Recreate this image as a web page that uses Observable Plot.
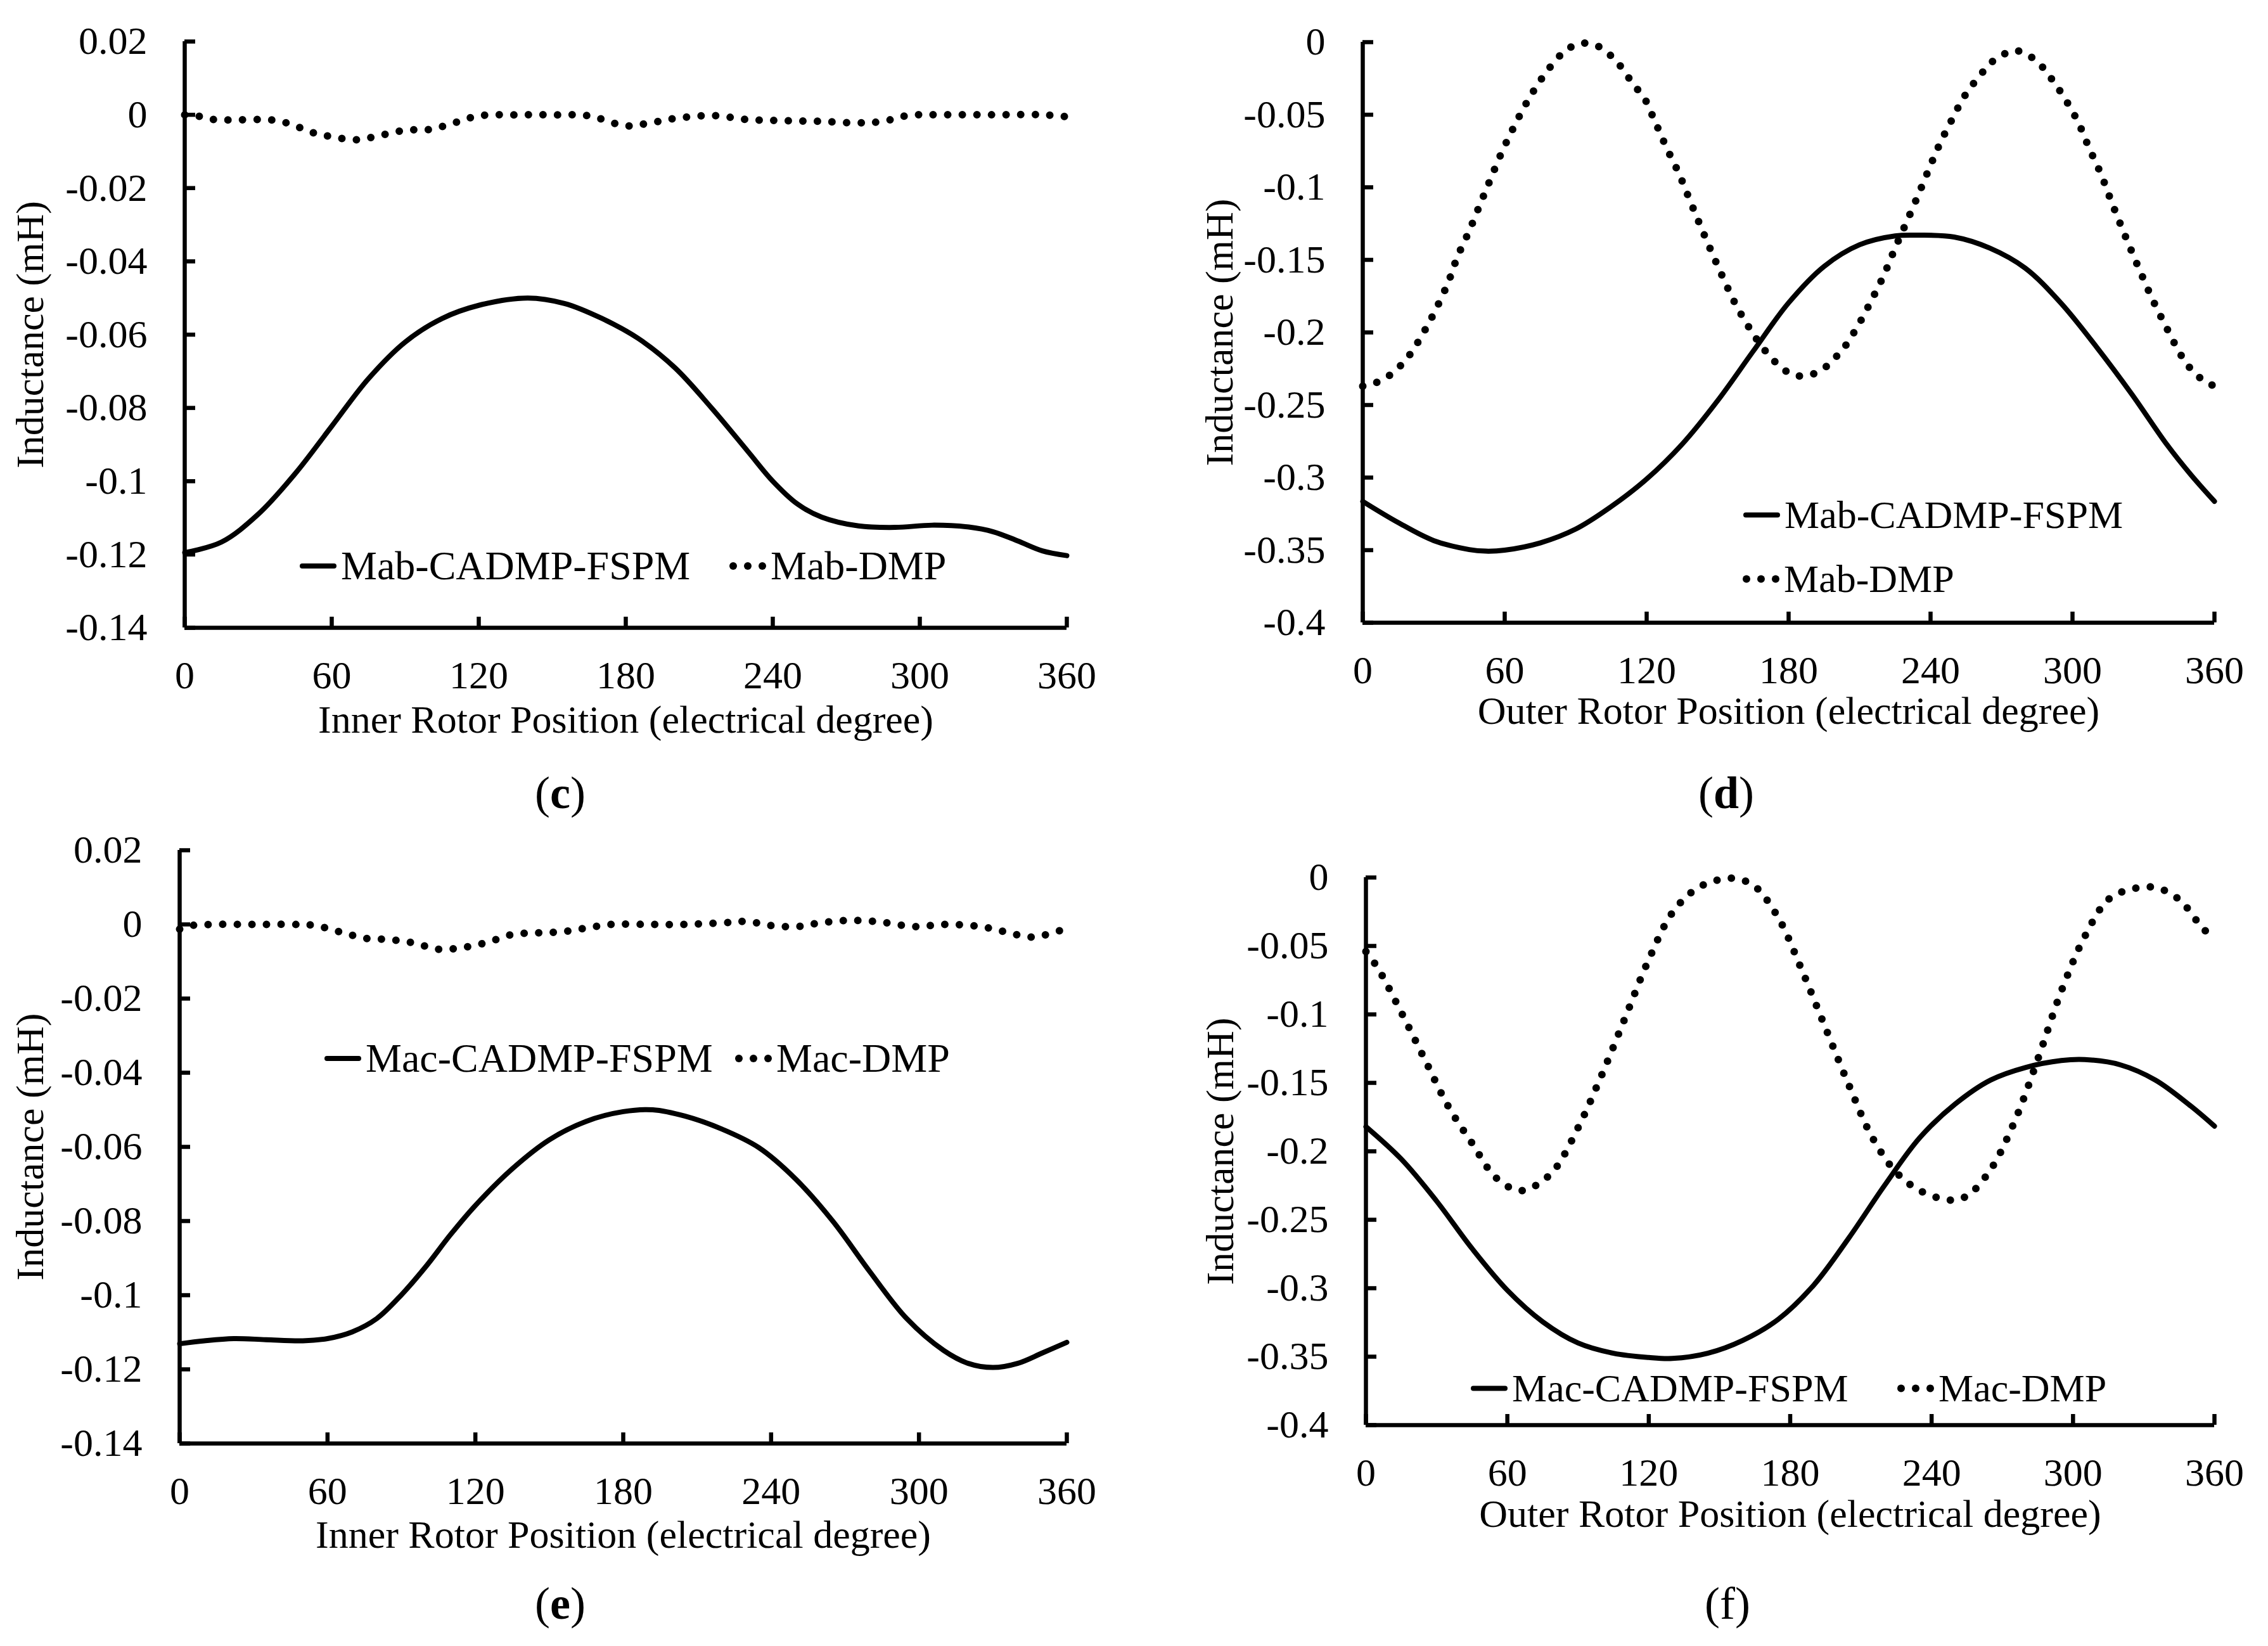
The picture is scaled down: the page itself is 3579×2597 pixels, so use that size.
<!DOCTYPE html>
<html>
<head>
<meta charset="utf-8">
<script src="https://cdn.jsdelivr.net/npm/d3@7"></script>
<script src="https://cdn.jsdelivr.net/npm/@observablehq/plot@0.6"></script>
<style>
  html, body { margin: 0; background: #fff; }
  #page { position: relative; width: 3579px; height: 2597px; font-family: "Liberation Serif", "Times New Roman", serif; color: #000; }
  .panel { position: absolute; }
  .item { position: absolute; display: flex; align-items: center; white-space: nowrap; transform: translateY(-50%); }
  .item svg { margin-right: 7px; }
  .sub { position: absolute; font-size: 72px; transform: translate(-50%, -50%); white-space: nowrap; }
</style>
</head>
<body>
<div id="page"></div>
<script>
const FONT = '"Liberation Serif", "Times New Roman", serif';

// tick values
const X_TICKS = [0, 60, 120, 180, 240, 300, 360];
const Y_TICKS_INNER = [0.02, 0, -0.02, -0.04, -0.06, -0.08, -0.1, -0.12, -0.14];
const Y_TICKS_OUTER = [0, -0.05, -0.1, -0.15, -0.2, -0.25, -0.3, -0.35, -0.4];
const Y_LABEL = "Inductance (mH)";
const X_LABEL_INNER = "Inner Rotor Position (electrical degree)";
const X_LABEL_OUTER = "Outer Rotor Position (electrical degree)";

// (c) Mab, inner rotor
const cSolidPos = [0, 15, 30, 45, 60, 75, 90, 105, 120, 140, 155, 170, 185, 200, 215, 230, 240, 250, 260, 275, 290, 305, 320, 330, 340, 350, 360];
const cSolidVal = [-0.1195, -0.1166, -0.109, -0.098, -0.085, -0.072, -0.062, -0.0556, -0.052, -0.050, -0.0515, -0.0555, -0.061, -0.069, -0.080, -0.092, -0.100, -0.1062, -0.1098, -0.1122, -0.1126, -0.112, -0.1125, -0.1138, -0.1163, -0.119, -0.1203];
const cDotPos = [0, 6, 12, 20, 30, 38, 45, 52, 60, 70, 80, 90, 100, 110, 120, 135, 150, 165, 180, 190, 200, 215, 230, 245, 260, 275, 285, 295, 310, 330, 350, 360];
const cDotVal = [0, -0.0004, -0.0013, -0.0014, -0.0013, -0.0016, -0.003, -0.0048, -0.006, -0.0068, -0.0056, -0.0042, -0.004, -0.0022, -0.0003, 0, 0, -0.0003, -0.003, -0.0022, -0.001, -0.0002, -0.0013, -0.0016, -0.0018, -0.0022, -0.0018, -0.0002, 0, 0, 0, -0.0005];

// (d) Mab, outer rotor
const dSolidPos = [0, 15, 30, 45, 52, 60, 75, 90, 105, 120, 135, 150, 165, 180, 195, 210, 225, 235, 250, 265, 280, 295, 310, 325, 340, 350, 360];
const dSolidVal = [-0.3164, -0.331, -0.3434, -0.3496, -0.3507, -0.350, -0.345, -0.3355, -0.320, -0.301, -0.277, -0.247, -0.213, -0.1796, -0.1545, -0.1396, -0.1335, -0.133, -0.1343, -0.1419, -0.1557, -0.1796, -0.2097, -0.2424, -0.2775, -0.298, -0.3164];
const dDotPos = [0, 5, 10, 15, 20, 25, 30, 36, 40, 45, 50, 54, 58.6, 63.7, 69.2, 75.5, 82.8, 87.4, 92.9, 98.7, 103.6, 107.9, 114.9, 118.7, 123.6, 128.2, 133.6, 138.2, 142.8, 147.4, 152.2, 157.4, 163.3, 169.9, 178.3, 183.6, 189.1, 194.5, 199, 203, 209.4, 215.1, 220.2, 224.7, 229.4, 234.3, 238.9, 243.5, 248.7, 254.4, 261.7, 265.5, 270.5, 275.5, 280.9, 285.8, 289.7, 293.2, 296.6, 302.4, 307, 312, 316.3, 320.6, 325.2, 329.8, 334.7, 340.1, 345.5, 348.9, 352.9, 357.5, 360];
const dDotVal = [-0.237, -0.235, -0.231, -0.2245, -0.215, -0.202, -0.187, -0.166, -0.148, -0.130, -0.110, -0.0944, -0.0764, -0.059, -0.0419, -0.0254, -0.0102, -0.0039, -0.0007, -0.0022, -0.0076, -0.0144, -0.0302, -0.0376, -0.055, -0.072, -0.0904, -0.1087, -0.1268, -0.1444, -0.162, -0.18, -0.1966, -0.2122, -0.226, -0.2298, -0.2293, -0.2253, -0.2185, -0.2115, -0.1951, -0.1776, -0.1607, -0.1431, -0.1256, -0.1072, -0.0891, -0.0715, -0.0544, -0.0371, -0.0213, -0.0143, -0.0087, -0.0057, -0.0087, -0.0145, -0.0221, -0.0301, -0.0384, -0.0552, -0.0728, -0.0908, -0.1092, -0.1268, -0.1449, -0.1625, -0.1803, -0.1979, -0.2147, -0.223, -0.2298, -0.2356, -0.2365];

// (e) Mac, inner rotor
const eSolidPos = [0, 10, 22, 35, 50, 60, 70, 80, 90, 100, 110, 120, 135, 150, 165, 180, 192, 205, 220, 235, 250, 265, 280, 295, 310, 320, 330, 340, 350, 360];
const eSolidVal = [-0.1131, -0.1123, -0.1117, -0.112, -0.1123, -0.1117, -0.1099, -0.1063, -0.0999, -0.0922, -0.0836, -0.0758, -0.0659, -0.0581, -0.0531, -0.0505, -0.050, -0.0517, -0.0552, -0.0602, -0.0687, -0.080, -0.0936, -0.1063, -0.1149, -0.1184, -0.1195, -0.1184, -0.1156, -0.1127];
const eDotPos = [0, 5, 15, 30, 45, 55, 65, 75, 85, 95, 105, 115, 125, 135, 145, 155, 165, 175, 190, 205, 220, 230, 240, 250, 260, 272, 285, 298, 310, 325, 335, 345, 352, 360];
const eDotVal = [-0.0013, -0.0003, 0, 0, 0, -0.0003, -0.002, -0.0037, -0.0041, -0.005, -0.0067, -0.0062, -0.0048, -0.0027, -0.0023, -0.002, -0.001, 0, 0, 0, 0.0004, 0.0008, -0.0003, -0.0006, 0.0004, 0.0011, 0.0006, -0.0006, 0, -0.0006, -0.002, -0.0034, -0.0027, -0.001];

// (f) Mac, outer rotor
const fSolidPos = [0, 15, 30, 45, 60, 75, 90, 105, 120, 130, 145, 160, 175, 190, 205, 220, 235, 250, 265, 280, 295, 305, 320, 335, 350, 360];
const fSolidVal = [-0.182, -0.2057, -0.2364, -0.271, -0.3015, -0.3245, -0.340, -0.3475, -0.3506, -0.3513, -0.3475, -0.338, -0.3226, -0.2977, -0.263, -0.225, -0.190, -0.1655, -0.148, -0.1387, -0.1337, -0.133, -0.1368, -0.148, -0.167, -0.1816];
const fDotPos = [0, 5, 15, 25, 35, 45, 55, 65, 72, 80, 90, 100, 110, 120, 130, 140, 150, 157, 165, 175, 185, 195, 205, 215, 225, 235, 248, 255, 265, 275, 285, 295, 305, 315, 325, 335, 345, 355, 360];
const fDotVal = [-0.054, -0.066, -0.0985, -0.133, -0.1674, -0.194, -0.219, -0.2287, -0.225, -0.2134, -0.1828, -0.1444, -0.1023, -0.060, -0.0257, -0.0084, -0.0015, -0.0008, -0.0065, -0.0295, -0.0678, -0.11, -0.152, -0.1904, -0.2153, -0.2287, -0.2356, -0.2326, -0.2134, -0.179, -0.133, -0.0831, -0.043, -0.016, -0.0084, -0.0073, -0.016, -0.037, -0.0448];

const SERIES_MAB = ["Mab-CADMP-FSPM", "Mab-DMP"];
const SERIES_MAC = ["Mac-CADMP-FSPM", "Mac-DMP"];

const toRows = (pos, val) => pos.map((p, i) => ({pos: p, val: val[i]}));
const fmtY = d => String(+d.toFixed(2));

const panels = [
  {
    letter: "c", bold: true, left: 0, top: 0, width: 1790, height: 1200,
    margin: [65, 107, 210, 291], yDomain: [-0.14, 0.02], yTicks: Y_TICKS_INNER,
    xLabel: X_LABEL_INNER, xLabelOffset: 165, yLabelOffset: 268,
    solid: toRows(cSolidPos, cSolidVal), dots: toRows(cDotPos, cDotVal), names: SERIES_MAB,
    legend: [[473, 893], [1151, 893]], legendSize: 64, sub: [884, 1251]
  },
  {
    letter: "d", bold: true, left: 1790, top: 0, width: 1789, height: 1200,
    margin: [66, 85, 218, 360], yDomain: [-0.4, 0], yTicks: Y_TICKS_OUTER,
    xLabel: X_LABEL_OUTER, xLabelOffset: 159, yLabelOffset: 250,
    solid: toRows(dSolidPos, dSolidVal), dots: toRows(dDotPos, dDotVal), names: SERIES_MAB,
    legend: [[2751, 812], [2750, 913]], legendSize: 62, sub: [2724, 1251]
  },
  {
    letter: "e", bold: true, left: 0, top: 1297, width: 1790, height: 1200,
    margin: [44, 107, 220, 283], yDomain: [-0.14, 0.02], yTicks: Y_TICKS_INNER,
    xLabel: X_LABEL_INNER, xLabelOffset: 164, yLabelOffset: 260,
    solid: toRows(eSolidPos, eSolidVal), dots: toRows(eDotPos, eDotVal), names: SERIES_MAC,
    legend: [[512, 1670], [1160, 1670]], legendSize: 64, sub: [884, 2530]
  },
  {
    letter: "f", bold: false, left: 1790, top: 1297, width: 1789, height: 1200,
    margin: [87, 85, 249, 365], yDomain: [-0.4, 0], yTicks: Y_TICKS_OUTER,
    xLabel: X_LABEL_OUTER, xLabelOffset: 160, yLabelOffset: 254,
    solid: toRows(fSolidPos, fSolidVal), dots: toRows(fDotPos, fDotVal), names: SERIES_MAC,
    legend: [[2321, 2190], [2994, 2190]], legendSize: 62, sub: [2726, 2530]
  }
];

const page = document.getElementById("page");

function sampleSvg(kind) {
  const ns = "http://www.w3.org/2000/svg";
  const svg = document.createElementNS(ns, "svg");
  svg.setAttribute("width", 58);
  svg.setAttribute("height", 14);
  if (kind === "solid") {
    const l = document.createElementNS(ns, "line");
    l.setAttribute("x1", 4); l.setAttribute("x2", 54);
    l.setAttribute("y1", 7); l.setAttribute("y2", 7);
    l.setAttribute("stroke", "#000"); l.setAttribute("stroke-width", 8);
    l.setAttribute("stroke-linecap", "round");
    svg.append(l);
  } else {
    for (const cx of [6, 29, 52]) {
      const c = document.createElementNS(ns, "circle");
      c.setAttribute("cx", cx); c.setAttribute("cy", 7); c.setAttribute("r", 6);
      svg.append(c);
    }
  }
  return svg;
}

for (const p of panels) {
  const [mt, mr, mb, ml] = p.margin;
  const chart = Plot.plot({
    width: p.width,
    height: p.height,
    marginTop: mt, marginRight: mr, marginBottom: mb, marginLeft: ml,
    style: {fontFamily: FONT, fontSize: "62px", color: "#000", background: "transparent", overflow: "visible"},
    x: {domain: [0, 360]},
    y: {domain: p.yDomain},
    marks: [
      Plot.axisX({
        ticks: X_TICKS, tickSize: -17, tickPadding: 68, strokeWidth: 6.5,
        tickFormat: d => String(d),
        label: p.xLabel, labelAnchor: "center", labelArrow: "none", labelOffset: p.xLabelOffset
      }),
      Plot.axisY({
        ticks: p.yTicks, tickSize: -17, tickPadding: 76, strokeWidth: 6.5,
        tickFormat: fmtY,
        label: Y_LABEL, labelAnchor: "center", labelArrow: "none", labelOffset: p.yLabelOffset
      }),
      Plot.ruleX([0], {strokeWidth: 6.5}),
      Plot.ruleY([p.yDomain[0]], {strokeWidth: 6.5}),
      Plot.line(p.dots, {
        x: "pos", y: "val", curve: "catmull-rom",
        stroke: "#000", strokeWidth: 12, strokeDasharray: "0 23", strokeLinecap: "round"
      }),
      Plot.line(p.solid, {
        x: "pos", y: "val", curve: "catmull-rom",
        stroke: "#000", strokeWidth: 8
      })
    ]
  });
  const wrap = document.createElement("div");
  wrap.className = "panel";
  wrap.style.left = p.left + "px";
  wrap.style.top = p.top + "px";
  wrap.append(chart);
  page.append(wrap);

  // legend
  ["solid", "dot"].forEach((kind, i) => {
    const item = document.createElement("div");
    item.className = "item";
    item.style.left = p.legend[i][0] + "px";
    item.style.top = p.legend[i][1] + "px";
    item.style.fontSize = p.legendSize + "px";
    item.append(sampleSvg(kind));
    const t = document.createElement("span");
    t.textContent = p.names[i];
    item.append(t);
    page.append(item);
  });

  // sub-figure letter
  const sub = document.createElement("div");
  sub.className = "sub";
  sub.style.left = p.sub[0] + "px";
  sub.style.top = p.sub[1] + "px";
  sub.innerHTML = "(" + (p.bold ? "<b>" + p.letter + "</b>" : p.letter) + ")";
  page.append(sub);
}
</script>
</body>
</html>
